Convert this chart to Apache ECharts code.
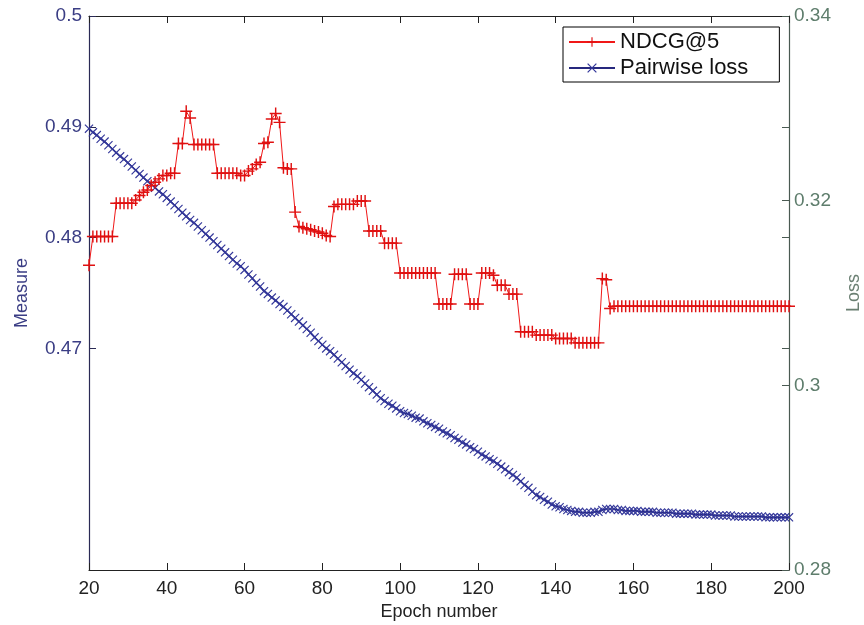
<!DOCTYPE html>
<html>
<head>
<meta charset="utf-8">
<script src="https://cdn.jsdelivr.net/npm/echarts@6/dist/echarts.min.js"></script>
<style>
  html, body { margin: 0; padding: 0; background: #fff; }
  #chart { width: 864px; height: 625px; }
</style>
</head>
<body>
<div id="chart"></div>
<script>
// epochs 20..200
var epochs = [];
for (var e = 20; e <= 200; e++) epochs.push(e);

// NDCG@5 (left axis, Measure)
var ndcg = [
  0.4775,
  0.4801, 0.4801, 0.4801, 0.4801, 0.4801, 0.4801,
  0.4831, 0.4831, 0.4831, 0.4831, 0.4831,
  0.4834, 0.4838, 0.4841, 0.4843, 0.4847, 0.4850, 0.4853, 0.4856, 0.4856, 0.4858, 0.4858, 0.4885, 0.4885, 0.4914, 0.4908,
  0.4884, 0.4884, 0.4884, 0.4884, 0.4884, 0.4884,
  0.4858, 0.4858, 0.4858, 0.4858, 0.4858, 0.4858,
  0.4856, 0.4856, 0.4860, 0.4862, 0.4866, 0.4868, 0.4885, 0.4886, 0.4907, 0.4912, 0.4904, 0.4863, 0.4862, 0.4862, 0.4823, 0.4810,
  0.4809, 0.4808, 0.4807, 0.4806, 0.4805, 0.4804, 0.4802, 0.4801,
  0.4828, 0.4830, 0.4830, 0.4830, 0.4830, 0.4830, 0.4833, 0.4833, 0.4833,
  0.4806, 0.4806, 0.4806, 0.4806,
  0.4795, 0.4795, 0.4795, 0.4795,
  0.4768, 0.4768, 0.4768, 0.4768, 0.4768, 0.4768, 0.4768, 0.4768, 0.4768, 0.4768,
  0.4740, 0.4740, 0.4740, 0.4740,
  0.4767, 0.4767, 0.4767, 0.4767,
  0.4740, 0.4740, 0.4740,
  0.4768, 0.4768, 0.4768, 0.4766,
  0.4757, 0.4757, 0.4757,
  0.4749, 0.4749, 0.4749,
  0.4715, 0.4715, 0.4715, 0.4715,
  0.4712, 0.4712, 0.4712, 0.4712, 0.4712,
  0.4709, 0.4709, 0.4709, 0.4709, 0.4709,
  0.4705, 0.4705, 0.4705, 0.4705, 0.4705, 0.4705, 0.4705,
  0.4763, 0.4762, 0.4736,
  0.4738, 0.4738, 0.4738, 0.4738, 0.4738, 0.4738, 0.4738, 0.4738, 0.4738, 0.4738,
  0.4738, 0.4738, 0.4738, 0.4738, 0.4738, 0.4738, 0.4738, 0.4738, 0.4738, 0.4738,
  0.4738, 0.4738, 0.4738, 0.4738, 0.4738, 0.4738, 0.4738, 0.4738, 0.4738, 0.4738,
  0.4738, 0.4738, 0.4738, 0.4738, 0.4738, 0.4738, 0.4738, 0.4738, 0.4738, 0.4738,
  0.4738, 0.4738, 0.4738, 0.4738, 0.4738, 0.4738
];

// Pairwise loss (right axis, Loss)
var pairLoss = [
  0.3278, 0.3274, 0.3271, 0.3267, 0.3264, 0.3260, 0.3256, 0.3252, 0.3248, 0.3245,
  0.3241, 0.3237, 0.3233, 0.3229, 0.3225, 0.3221, 0.3218, 0.3214, 0.3210, 0.3207,
  0.3203, 0.3199, 0.3195, 0.3191, 0.3187, 0.3183, 0.3179, 0.3176, 0.3172, 0.3168,
  0.3164, 0.3160, 0.3156, 0.3152, 0.3148, 0.3144, 0.3140, 0.3136, 0.3132, 0.3129,
  0.3125, 0.3120, 0.3116, 0.3111, 0.3107, 0.3102, 0.3099, 0.3095, 0.3092, 0.3088,
  0.3085, 0.3081, 0.3077, 0.3073, 0.3069, 0.3065, 0.3061, 0.3057, 0.3052, 0.3048,
  0.3044, 0.3040, 0.3037, 0.3033, 0.3029, 0.3025, 0.3021, 0.3017, 0.3013, 0.3010,
  0.3006, 0.3002, 0.2998, 0.2994, 0.2990, 0.2986, 0.2983, 0.2980, 0.2978, 0.2975,
  0.2972, 0.2970, 0.2969, 0.2967, 0.2965, 0.2964, 0.2961, 0.2959, 0.2957, 0.2955,
  0.2953, 0.2950, 0.2948, 0.2946, 0.2943, 0.2941, 0.2938, 0.2936, 0.2933, 0.2931,
  0.2928, 0.2925, 0.2923, 0.2920, 0.2918, 0.2915, 0.2912, 0.2909, 0.2906, 0.2903,
  0.2900, 0.2896, 0.2892, 0.2889, 0.2885, 0.2881, 0.2879, 0.2876, 0.2874, 0.2871,
  0.2869, 0.2868, 0.2866, 0.2865, 0.2864, 0.2863, 0.2863, 0.2862, 0.2862, 0.2862,
  0.2863, 0.2863, 0.2865, 0.2866, 0.2866, 0.2866, 0.2865, 0.2865, 0.2864, 0.2864,
  0.2864, 0.2864, 0.2863, 0.2863, 0.2863, 0.2863, 0.2862, 0.2862, 0.2862, 0.2862,
  0.2862, 0.2861, 0.2861, 0.2861, 0.2861, 0.2861, 0.2860, 0.2860, 0.2860, 0.2860,
  0.2860, 0.2859, 0.2859, 0.2859, 0.2859, 0.2859, 0.2858, 0.2858, 0.2858, 0.2858,
  0.2858, 0.2858, 0.2858, 0.2858, 0.2857, 0.2857, 0.2857, 0.2857, 0.2857, 0.2857,
  0.2857
];

var measureTicks = [0.47, 0.48, 0.49, 0.5];

var plusPath = 'path://M0,4.4H10V5.6H0Z M4.4,0H5.6V10H4.4Z';
var crossPath = 'path://M0,0.9L0.9,0L10,9.1L9.1,10Z M9.1,0L10,0.9L0.9,10L0,9.1Z';

function pairs(ys) {
  return epochs.map(function (x, i) { return [x, ys[i]]; });
}

var font = 'Liberation Sans, Arial, sans-serif';
var chart = echarts.init(document.getElementById('chart'));
chart.setOption({
  animation: false,
  backgroundColor: '#fff',
  grid: [
    { left: 89, right: 75, top: 16, bottom: 55, outerBoundsMode: 'none', containLabel: false },
    { left: 89, right: 75, top: 16, bottom: 55, outerBoundsMode: 'none', containLabel: false }
  ],
  legend: {
    orient: 'vertical',
    left: 563,
    top: 27,
    backgroundColor: '#fff',
    borderColor: '#000',
    borderWidth: 1,
    padding: [4, 31, 3, 5],
    itemGap: 4,
    itemWidth: 46,
    itemHeight: 12,
    textStyle: { fontFamily: font, fontSize: 22, color: '#111' },
    data: ['NDCG@5', 'Pairwise loss']
  },
  xAxis: [
    {
      type: 'value', gridIndex: 0, min: 20, max: 200, interval: 20,
      name: 'Epoch number', nameLocation: 'middle', nameGap: 31,
      nameTextStyle: { fontFamily: font, fontSize: 18, color: '#222' },
      axisLine: { lineStyle: { color: '#222', width: 1.2 } },
      axisTick: { inside: true, length: 7, lineStyle: { color: '#222' } },
      axisLabel: { fontFamily: font, fontSize: 19, color: '#222', margin: 9 },
      splitLine: { show: false }
    },
    {
      type: 'value', gridIndex: 1, position: 'top', min: 20, max: 200, interval: 20,
      axisLine: { lineStyle: { color: '#222', width: 1.2 } },
      axisTick: { inside: true, length: 7, lineStyle: { color: '#222' } },
      axisLabel: { show: false },
      splitLine: { show: false }
    }
  ],
  yAxis: [
    {
      type: 'value', gridIndex: 0, position: 'left', min: 0.45, max: 0.5, interval: 0.01,
      name: 'Measure', nameLocation: 'middle', nameGap: 58,
      nameTextStyle: { fontFamily: font, fontSize: 18, color: '#3a3d84' },
      axisLine: { show: true, lineStyle: { color: '#2a2a55', width: 1.2 } },
      axisTick: { inside: true, length: 7, customValues: measureTicks, lineStyle: { color: '#2a2a55' } },
      axisLabel: { fontFamily: font, fontSize: 19, color: '#3a3d84', margin: 7, customValues: measureTicks },
      splitLine: { show: false }
    },
    {
      type: 'value', gridIndex: 0, position: 'right', min: 0.28, max: 0.34, interval: 0.02,
      name: 'Loss', nameLocation: 'middle', nameGap: 56,
      nameTextStyle: { fontFamily: font, fontSize: 18, color: '#6a7f72' },
      axisLine: { show: true, lineStyle: { color: '#4a5a52', width: 1.2 } },
      axisTick: { inside: true, length: 7, lineStyle: { color: '#4a5a52' } },
      axisLabel: { fontFamily: font, fontSize: 19, color: '#5e7d6c', margin: 5 },
      splitLine: { show: false }
    },
    {
      type: 'value', gridIndex: 1, position: 'right', min: 0.45, max: 0.5, interval: 0.01,
      axisLine: { show: false },
      axisTick: { inside: true, length: 7, customValues: measureTicks, lineStyle: { color: '#4a5a52' } },
      axisLabel: { show: false },
      splitLine: { show: false }
    }
  ],
  series: [
    {
      name: 'NDCG@5', type: 'line', xAxisIndex: 0, yAxisIndex: 0,
      data: pairs(ndcg),
      symbol: plusPath, symbolSize: 12, showAllSymbol: true,
      lineStyle: { color: '#f01818', width: 1 },
      itemStyle: { color: '#e01010' },
      z: 3
    },
    {
      name: 'Pairwise loss', type: 'line', xAxisIndex: 0, yAxisIndex: 1,
      data: pairs(pairLoss),
      symbol: crossPath, symbolSize: 9, showAllSymbol: true,
      lineStyle: { color: '#26287e', width: 1.6 },
      itemStyle: { color: '#33379a' },
      z: 2
    }
  ]
});
</script>
</body>
</html>
